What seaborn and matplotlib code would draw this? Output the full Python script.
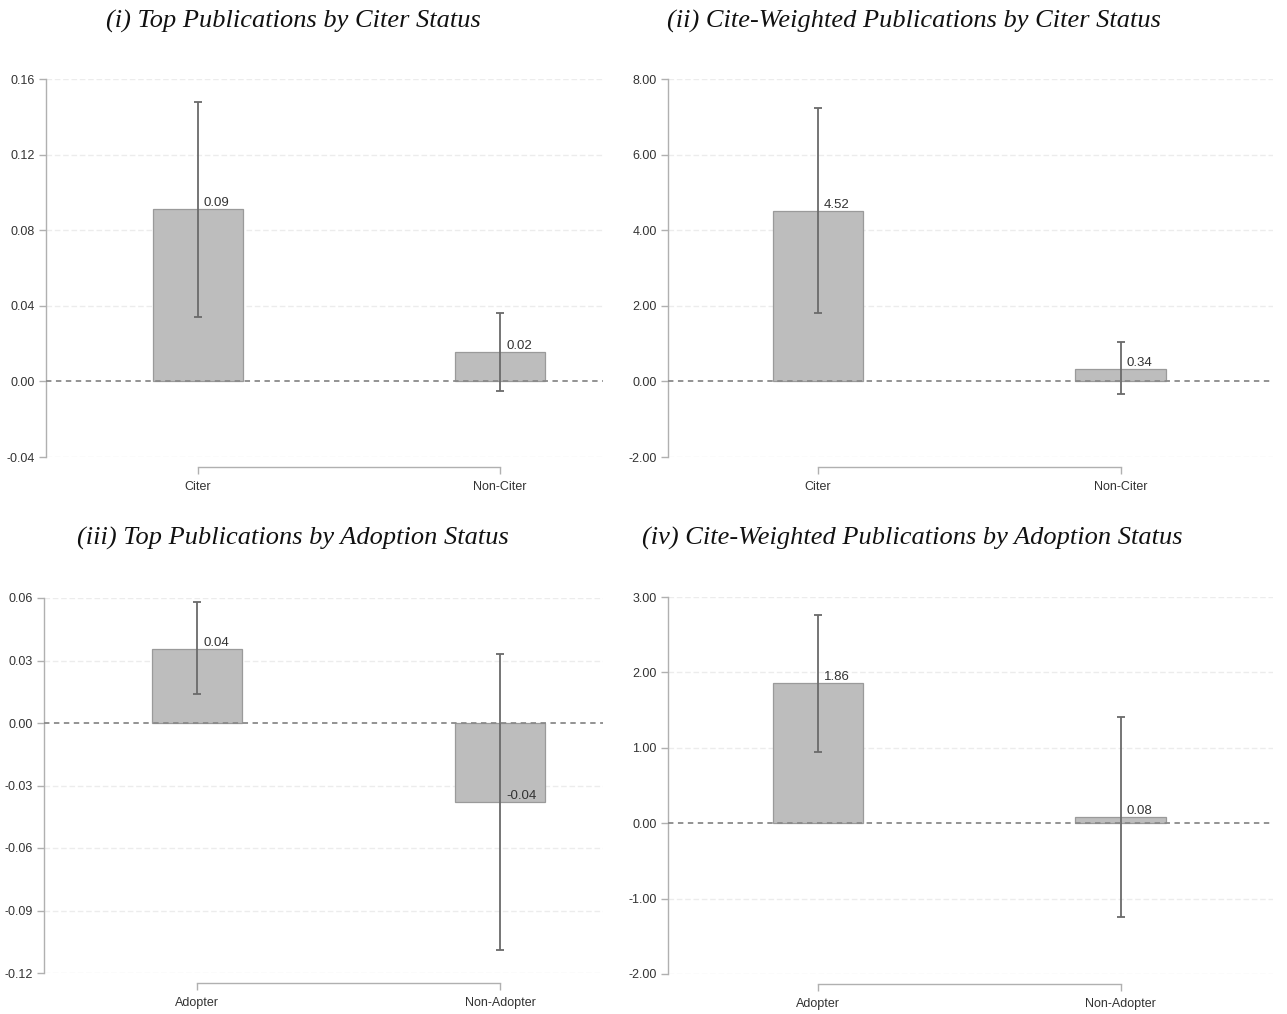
import numpy as np
import pandas as pd
import matplotlib
matplotlib.use("Agg")
import matplotlib.pyplot as plt
import seaborn as sns

# ---- data ----
cats_citer = ["Citer", "Non-Citer"]
cats_adopt = ["Adopter", "Non-Adopter"]

top_citer = [0.091, 0.0155]
top_citer_lo = [0.034, -0.005]
top_citer_hi = [0.148, 0.036]

cw_citer = [4.52, 0.34]
cw_citer_lo = [1.80, -0.34]
cw_citer_hi = [7.23, 1.03]

top_adopt = [0.0355, -0.0378]
top_adopt_lo = [0.014, -0.109]
top_adopt_hi = [0.058, 0.033]

cw_adopt = [1.86, 0.077]
cw_adopt_lo = [0.95, -1.25]
cw_adopt_hi = [2.76, 1.41]

titles = ["(i) Top Publications by Citer Status",
          "(ii) Cite-Weighted Publications by Citer Status",
          "(iii) Top Publications by Adoption Status",
          "(iv) Cite-Weighted Publications by Adoption Status"]

yticks_i = [-0.04, 0.00, 0.04, 0.08, 0.12, 0.16]
yticks_ii = [-2.0, 0.0, 2.0, 4.0, 6.0, 8.0]
yticks_iii = [-0.12, -0.09, -0.06, -0.03, 0.00, 0.03, 0.06]
yticks_iv = [-2.0, -1.0, 0.0, 1.0, 2.0, 3.0]

sns.set_theme(style="white")
plt.rcParams['font.family'] = ['Liberation Sans', 'DejaVu Sans']

W, H = 1287, 1014
fig = plt.figure(figsize=(W / 100, H / 100), dpi=100)

def rect(l, r, t, b):
    return [l / W, 1 - b / H, (r - l) / W, (b - t) / H]

panels = [
    dict(rect=rect(46, 603, 79, 457), cats=cats_citer, v=top_citer, lo=top_citer_lo, hi=top_citer_hi,
         yt=yticks_i, xlim=(-0.503, 1.341)),
    dict(rect=rect(668, 1273, 79, 457), cats=cats_citer, v=cw_citer, lo=cw_citer_lo, hi=cw_citer_hi,
         yt=yticks_ii, xlim=(-0.495, 1.502)),
    dict(rect=rect(44, 603, 598, 973), cats=cats_adopt, v=top_adopt, lo=top_adopt_lo, hi=top_adopt_hi,
         yt=yticks_iii, xlim=(-0.505, 1.34)),
    dict(rect=rect(668, 1273, 597, 974), cats=cats_adopt, v=cw_adopt, lo=cw_adopt_lo, hi=cw_adopt_hi,
         yt=yticks_iv, xlim=(-0.495, 1.502)),
]

for p in panels:
    ax = fig.add_axes(p["rect"])
    df = pd.DataFrame({"cat": p["cats"], "val": p["v"]})
    sns.barplot(data=df, x="cat", y="val", ax=ax, color="#bdbdbd", saturation=1,
                width=0.30, errorbar=None, edgecolor="#9a9a9a", linewidth=0.9, zorder=3)
    vals = np.array(p["v"])
    lo = np.array(p["lo"])
    hi = np.array(p["hi"])
    xs = np.arange(len(vals))
    ax.errorbar(xs, vals, yerr=[vals - lo, hi - vals], fmt="none", ecolor="#6a6a6a",
                elinewidth=1.3, capsize=3, capthick=1.3, zorder=4)
    ax.set_ylim(p["yt"][0], p["yt"][-1])
    ax.set_xlim(*p["xlim"])
    ax.set_yticks(p["yt"])
    ax.set_yticklabels([f"{t:.2f}" for t in p["yt"]])
    for t in p["yt"]:
        if abs(t) > 1e-12:
            ax.axhline(t, color="#ececec", lw=1.0, ls=(0, (4, 2)), zorder=0)
    ax.axhline(0, color="#8a8a8a", lw=1.3, ls=(0, (3, 2.5)), zorder=5)
    for x, v in zip(xs, vals):
        ax.text(x + 0.02, v, f"{v:.2f}", ha="left", va="bottom", fontsize=9.5,
                color="#333333", zorder=6)
    ax.set_xlabel("")
    ax.set_ylabel("")
    ax.spines["top"].set_visible(False)
    ax.spines["right"].set_visible(False)
    ax.spines["left"].set_color("#b0b0b0")
    ax.spines["bottom"].set_color("#b0b0b0")
    ax.spines["bottom"].set_position(("outward", 7))
    ax.spines["bottom"].set_bounds(0, 1)
    ax.spines["left"].set_linewidth(1.0)
    ax.spines["bottom"].set_linewidth(1.0)
    ax.tick_params(axis="both", which="both", direction="out", length=5, width=1.0,
                   color="#b0b0b0", labelsize=9, labelcolor="#333333",
                   left=True, bottom=True, pad=3)
    ax.tick_params(axis="x", pad=5)
    ax.set_facecolor("white")

title_pos = [(293, 21), (914, 21), (293, 538), (912, 538)]
for t, (x, y) in zip(titles, title_pos):
    fig.text(x / W, 1 - y / H, t, ha="center", va="center", fontsize=19,
             style="italic", family=["Liberation Serif", "DejaVu Serif"], color="#111111")

fig.savefig("out.png", dpi=100)
